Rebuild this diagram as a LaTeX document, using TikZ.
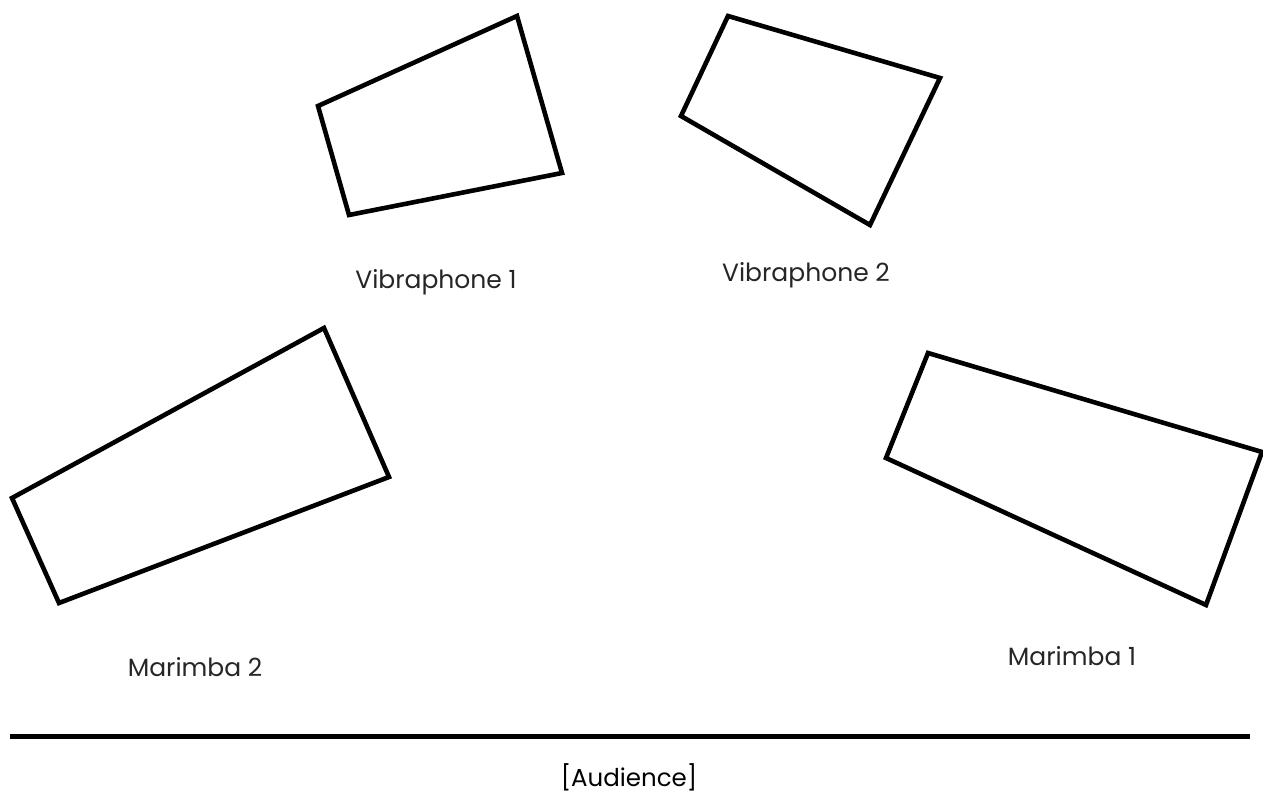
\documentclass[tikz,border=0pt]{standalone}
\usepackage{fontspec}
\setmainfont{Poppins}
\begin{document}
\begin{tikzpicture}[x=1pt,y=-1pt,
  inst/.style={draw=black,line width=4.6pt,line join=miter},
  lbl/.style={font=\fontsize{25}{30}\selectfont,text=black!85},
  aud/.style={font=\fontsize{24.5}{30}\selectfont}]
\useasboundingbox (0,0) rectangle (1263,799);
\draw[inst] (318,106) coordinate (v1a) -- (517,16) coordinate (v1b) -- (562,173) coordinate (v1c) -- (349,215) coordinate (v1d) -- cycle;
\draw[inst] (728,16) coordinate (v2a) -- (940,78) coordinate (v2b) -- (870,225) coordinate (v2c) -- (681,116) coordinate (v2d) -- cycle;
\draw[inst] (12,498) coordinate (m2a) -- (324,328) coordinate (m2b) -- (389,477) coordinate (m2c) -- (59,603) coordinate (m2d) -- cycle;
\draw[inst] (928,353) coordinate (m1a) -- (1262,452) coordinate (m1b) -- (1206,605) coordinate (m1c) -- (886,458) coordinate (m1d) -- cycle;
\node[lbl] (t1) at (436,282) {Vibraphone 1};
\node[lbl] (t2) at (806,275) {Vibraphone 2};
\node[lbl] (t3) at (195,667) {Marimba 2};
\node[lbl] (t4) at (1072,656) {Marimba 1};
\coordinate (sl) at (10,736.5);
\coordinate (sr) at (1250,736.5);
\draw[line width=5.5pt] (sl) -- (sr);
\node[aud] (aud) at (629,777) {[Audience]};
\end{tikzpicture}
\end{document}
